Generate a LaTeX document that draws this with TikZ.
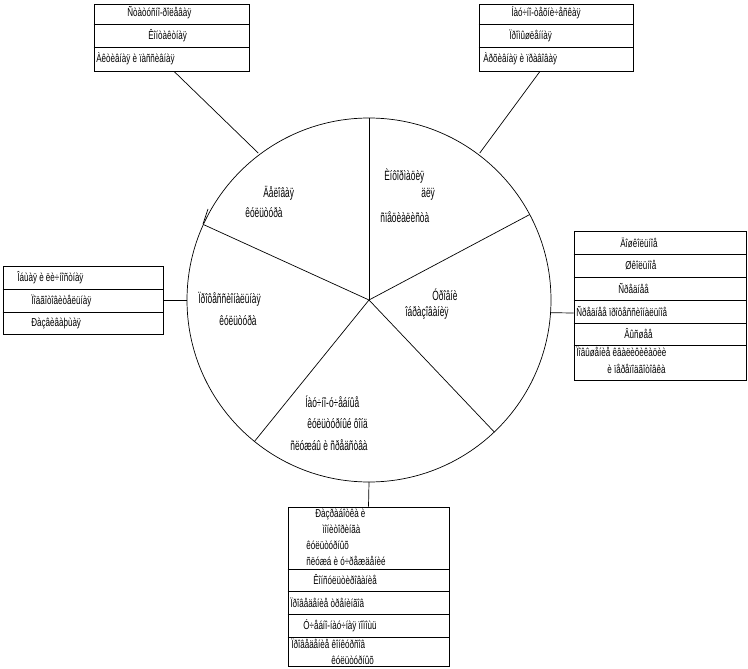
\documentclass[tikz,border=0pt]{standalone}
\usepackage{fontspec}
\usetikzlibrary{calc}
\newfontfamily\cond[FakeStretch=0.7]{Liberation Sans}
\newfontfamily\tall[FakeStretch=0.62]{Liberation Sans}
\tikzset{
  lbl/.style={font=\cond\fontsize{11.5}{13}\selectfont, inner sep=0pt, anchor=west},
  seclbl/.style={font=\tall\fontsize{13.5}{15}\selectfont, inner sep=0pt, anchor=west},
  box/.style={draw, inner sep=0pt}
}
\begin{document}
\begin{tikzpicture}[x=1pt,y=1pt,line width=0.7pt]
\useasboundingbox (0,0) rectangle (748,-669);
% circle and sectors
\coordinate (o) at (369,-300);
\draw (o) circle (182pt);
\foreach \a in {90,28,-46.5,231,155.5}
  \draw (o) -- ++(\a:182);
\draw (203,-224) -- (208,-209);
% sector labels
\node[seclbl] (s1a) at (263,-193) {Äåëîâàÿ};
\node[seclbl] (s1b) at (245,-213) {êóëüòóðà};
\node[seclbl] (s2a) at (384,-176) {Èíôîðìàöèÿ};
\node[seclbl] (s2b) at (421,-194) {äëÿ};
\node[seclbl] (s2c) at (380,-217) {ñïåöèàëèñòà};
\node[seclbl] (s3a) at (432,-295) {Óðîâíè};
\node[seclbl] (s3b) at (405,-313) {îáðàçîâàíèÿ};
\node[seclbl] (s4a) at (305,-402) {Íàó÷íî-ó÷åáíûå};
\node[seclbl] (s4b) at (307,-424) {êóëüòóðíûé ôîíä};
\node[seclbl] (s4c) at (290,-445) {ñëóæáû è ñðåäñòâà};
\node[seclbl] (s5a) at (198,-299) {Ïðîôåññèîíàëüíàÿ};
\node[seclbl] (s5b) at (219,-321) {êóëüòóðà};
% top left box
\node[box, minimum width=155pt, minimum height=67pt] (tl) at (171.5,-37.5) {};
\foreach \y in {-24,-47} \draw (tl.west |- 0,\y) -- (tl.east |- 0,\y);
\node[lbl] (tl1) at (127,-13) {Ñòàòóñíî-ðîëåâàÿ};
\node[lbl] (tl2) at (148,-35.5) {Êîíòàêòíàÿ};
\node[lbl] (tl3) at (96,-59) {Àêòèâíàÿ è ïàññèâíàÿ};
% top right box
\node[box, minimum width=154pt, minimum height=67pt] (tr) at (556,-37.5) {};
\foreach \y in {-24,-47} \draw (tr.west |- 0,\y) -- (tr.east |- 0,\y);
\node[lbl] (tr1) at (511,-13) {Íàó÷íî-òåõíè÷åñêàÿ};
\node[lbl] (tr2) at (509,-35.5) {Ïðîìûøëåííàÿ};
\node[lbl] (tr3) at (483,-59) {Àðõèâíàÿ è ïðàâîâàÿ};
% right box
\node[box, minimum width=172pt, minimum height=149pt] (rt) at (660,-305.5) {};
\foreach \y in {-254,-277,-300,-323,-345} \draw (rt.west |- 0,\y) -- (rt.east |- 0,\y);
\node[lbl] (rt1) at (620,-242.5) {Äîøêîëüíîå};
\node[lbl] (rt2) at (625,-265.5) {Øêîëüíîå};
\node[lbl] (rt3) at (618,-288.5) {Ñðåäíåå};
\node[lbl] (rt4) at (576,-311.5) {Ñðåäíåå ïðîôåññèîíàëüíîå};
\node[lbl] (rt5) at (624,-334) {Âûñøåå};
\node[lbl] (rt6) at (576,-352) {Ïîâûøåíèå êâàëèôèêàöèè};
\node[lbl] (rt7) at (607,-369) {è ïåðåïîäãîòîâêà};
% left box
\node[box, minimum width=160pt, minimum height=68pt] (lt) at (83,-300) {};
\foreach \y in {-289,-312} \draw (lt.west |- 0,\y) -- (lt.east |- 0,\y);
\node[lbl] (lt1) at (17,-277.5) {Îáùàÿ è ëè÷íîñòíàÿ};
\node[lbl] (lt2) at (31,-300.5) {Ïîäãîòîâèòåëüíàÿ};
\node[lbl] (lt3) at (31,-323) {Ðàçâèâàþùàÿ};
% bottom box
\node[box, minimum width=161pt, minimum height=159pt] (bt) at (368.5,-586.5) {};
\foreach \y in {-569,-591,-614,-637} \draw (bt.west |- 0,\y) -- (bt.east |- 0,\y);
\node[lbl] (bt1) at (315,-514) {Ðàçðàáîòêà è};
\node[lbl] (bt2) at (322,-529) {ìîíèòîðèíãà};
\node[lbl] (bt3) at (306,-545) {êóëüòóðíûõ};
\node[lbl] (bt4) at (306,-561) {ñëóæá è ó÷ðåæäåíèé};
\node[lbl] (bt5) at (313,-580) {Êîíñóëüòèðîâàíèå};
\node[lbl] (bt6) at (290,-602.5) {Ïðîâåäåíèå òðåíèíãîâ};
\node[lbl] (bt7) at (303,-625.5) {Ó÷åáíî-íàó÷íàÿ ïîìîùü};
\node[lbl] (bt8) at (291,-644) {Ïðîâåäåíèå êîíêóðñîâ};
\node[lbl] (bt9) at (331,-660) {êóëüòóðíûõ};
% connectors
\coordinate (ctl) at ($(o)+(127:184)$);
\coordinate (ctr) at ($(o)+(53:184)$);
\coordinate (clt) at ($(o)+(180:182)$);
\coordinate (crt) at ($(o)+(-4:182)$);
\coordinate (cbt) at ($(o)+(-90:182)$);
\draw (tl.south -| 174,0) -- (ctl);
\draw (tr.south -| 540,0) -- (ctr);
\draw (lt.east) -- (clt);
\draw (rt.west |- 0,-313) -- (crt);
\draw (bt.north) -- (cbt);
\end{tikzpicture}
\end{document}
